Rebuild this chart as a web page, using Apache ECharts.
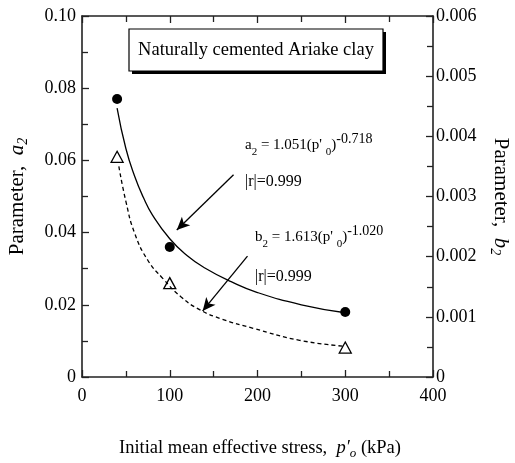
<!DOCTYPE html>
<html>
<head>
<meta charset="utf-8">
<script src="https://cdn.jsdelivr.net/npm/echarts@6/dist/echarts.min.js"></script>
<style>
  html, body { margin: 0; padding: 0; background: #fff; }
  #chart { width: 515px; height: 463px; }
</style>
</head>
<body>
<div id="chart"></div>
<script>
// Measured points: initial mean effective stress (kPa) and the two parameters
const pressure = [40, 100, 300];
const a2Values = [0.077, 0.036, 0.018];
const b2Values = [0.00366, 0.00156, 0.00049];

// Fitted power curves, sampled along the drawn lines
const a2FitStress = [40, 50, 60, 70, 80, 100, 120, 140, 170, 200, 250, 300];
const a2FitValues = [0.0745, 0.0633, 0.0556, 0.0497, 0.0450, 0.0383, 0.0336, 0.0302, 0.0264, 0.0234, 0.0200, 0.0178];
const b2FitStress = [42, 50, 60, 75, 92, 113, 134, 160, 195, 248, 300];
const b2FitValues = [0.00350, 0.00292, 0.00239, 0.00194, 0.00164, 0.00133, 0.00112, 0.00096, 0.00081, 0.00061, 0.00051];

// Tick labels
const xTickLabels = ['0', '100', '200', '300', '400'];
const leftTickLabels = ['0', '0.02', '0.04', '0.06', '0.08', '0.10'];
const rightTickLabels = ['0', '0.001', '0.002', '0.003', '0.004', '0.005', '0.006'];

const SERIF = '"Liberation Serif", "Times New Roman", serif';
const INK = '#000';

function pairs(xs, ys) { return xs.map((x, i) => [x, ys[i]]); }
function labelFrom(list, step) {
  return function (v) {
    const i = Math.round(v / step);
    return list[i] !== undefined ? list[i] : '';
  };
}

const axisLine = { show: true, onZero: false, lineStyle: { color: '#222', width: 1.6 } };
const tick = { show: true, inside: true, length: 7, lineStyle: { color: '#222', width: 1.3 } };
const minor = { show: true, splitNumber: 2, length: 6, lineStyle: { color: '#222', width: 1.3 } };
const tickFont = { color: INK, fontFamily: SERIF, fontSize: 18 };

// equation text: main run, subscript and superscript
const eqRich = {
  a: { fontFamily: SERIF, fontSize: 15, color: INK, lineHeight: 26, verticalAlign: 'middle' },
  s: { fontFamily: SERIF, fontSize: 11, color: INK, lineHeight: 19, verticalAlign: 'bottom' },
  e: { fontFamily: SERIF, fontSize: 14, color: INK, lineHeight: 9, verticalAlign: 'top' }
};

const nameRich = {
  n: { fontFamily: SERIF, fontSize: 21, color: INK, lineHeight: 26 },
  i: { fontFamily: SERIF, fontSize: 21, fontStyle: 'italic', color: INK, lineHeight: 26 },
  is: { fontFamily: SERIF, fontSize: 14, fontStyle: 'italic', color: INK, lineHeight: 18, verticalAlign: 'bottom' }
};

const chart = echarts.init(document.getElementById('chart'), null, { renderer: 'canvas' });

chart.setOption({
  animation: false,
  backgroundColor: '#fff',
  grid: { left: 82, right: 82, top: 16, bottom: 86, containLabel: false, outerBoundsMode: 'none' },
  xAxis: [
    {
      type: 'value', position: 'bottom', min: 0, max: 400, interval: 100,
      axisLine: axisLine, axisTick: tick, minorTick: minor,
      splitLine: { show: false },
      axisLabel: Object.assign({ margin: 10, formatter: labelFrom(xTickLabels, 100) }, tickFont),
      name: '{n|Initial mean effective stress,  }{i|p\u2032}{is|o}{n| (kPa)}',
      nameLocation: 'middle', nameGap: 59,
      nameTextStyle: {
        padding: [0, 0, 0, 5],
        rich: {
          n: { fontFamily: SERIF, fontSize: 18.5, color: INK, lineHeight: 24 },
          i: { fontFamily: SERIF, fontSize: 18.5, fontStyle: 'italic', color: INK, lineHeight: 24 },
          is: { fontFamily: SERIF, fontSize: 13, fontStyle: 'italic', color: INK, lineHeight: 17, verticalAlign: 'bottom' }
        }
      }
    },
    {
      type: 'value', position: 'top', min: 0, max: 400, interval: 100,
      axisLine: axisLine, axisTick: tick, minorTick: minor,
      splitLine: { show: false }, axisLabel: { show: false }
    }
  ],
  yAxis: [
    {
      type: 'value', position: 'left', min: 0, max: 0.1, interval: 0.02,
      axisLine: axisLine, axisTick: tick, minorTick: minor,
      splitLine: { show: false },
      axisLabel: Object.assign({ margin: 6, formatter: labelFrom(leftTickLabels, 0.02) }, tickFont),
      name: '{n|Parameter,  }{i|a}{is|2}',
      nameLocation: 'middle', nameRotate: 90, nameGap: 52,
      nameTextStyle: { rich: nameRich }
    },
    {
      type: 'value', position: 'right', min: 0, max: 0.006, interval: 0.001,
      axisLine: axisLine, axisTick: tick, minorTick: minor,
      splitLine: { show: false },
      axisLabel: Object.assign({ margin: 3, formatter: labelFrom(rightTickLabels, 0.001) }, tickFont),
      name: '{n|Parameter,  }{i|b}{is|2}',
      nameLocation: 'middle', nameRotate: -90, nameGap: 54,
      nameTextStyle: { rich: nameRich }
    }
  ],
  series: [
    {
      name: 'a2 fit', type: 'line', xAxisIndex: 0, yAxisIndex: 0,
      data: pairs(a2FitStress, a2FitValues), smooth: true, showSymbol: false,
      lineStyle: { color: INK, width: 1.3 },
      markLine: {
        silent: true, symbol: ['none', 'arrow'], symbolSize: [9, 13],
        label: { show: false },
        lineStyle: { color: INK, width: 1.3, type: 'solid' },
        data: [
          [{ coord: [172.7, 0.0560] }, { coord: [108, 0.0407] }],
          [{ coord: [188.6, 0.0335] }, { coord: [137.5, 0.0183] }]
        ]
      }
    },
    {
      name: 'b2 fit', type: 'line', xAxisIndex: 0, yAxisIndex: 1,
      data: pairs(b2FitStress, b2FitValues), smooth: true, showSymbol: false,
      lineStyle: { color: INK, width: 1.3, type: [4, 3] }
    },
    {
      name: 'a2', type: 'scatter', xAxisIndex: 0, yAxisIndex: 0,
      data: pairs(pressure, a2Values), symbol: 'circle', symbolSize: 10,
      itemStyle: { color: INK, opacity: 1 }
    },
    {
      name: 'b2', type: 'scatter', xAxisIndex: 0, yAxisIndex: 1,
      data: pairs(pressure, b2Values), symbol: 'triangle', symbolSize: [12, 11],
      itemStyle: { color: '#fff', borderColor: INK, borderWidth: 1.3, opacity: 1 }
    }
  ],
  graphic: [
    // caption box with a drop shadow
    { type: 'rect', shape: { x: 132, y: 32, width: 254, height: 42 }, style: { fill: INK }, z: 10 },
    { type: 'rect', shape: { x: 129, y: 29, width: 254, height: 42 }, style: { fill: '#fff', stroke: INK, lineWidth: 1.2 }, z: 11 },
    {
      type: 'text', x: 256, y: 50, z: 12,
      style: { text: 'Naturally cemented Ariake clay', font: '18.5px ' + SERIF, fill: INK, align: 'center', verticalAlign: 'middle' }
    },
    // fitted equations
    {
      type: 'text', x: 245, y: 145, z: 12,
      style: { text: '{a|a}{s|2}{a| = 1.051(p\' }{s|0}{a|)}{e|-0.718}', rich: eqRich, verticalAlign: 'middle' }
    },
    {
      type: 'text', x: 245, y: 182, z: 12,
      style: { text: '|r|=0.999', font: '16px ' + SERIF, fill: INK, verticalAlign: 'middle' }
    },
    {
      type: 'text', x: 255, y: 237, z: 12,
      style: { text: '{a|b}{s|2}{a| = 1.613(p\' }{s|0}{a|)}{e|-1.020}', rich: eqRich, verticalAlign: 'middle' }
    },
    {
      type: 'text', x: 255, y: 277, z: 12,
      style: { text: '|r|=0.999', font: '16px ' + SERIF, fill: INK, verticalAlign: 'middle' }
    }
  ]
});
</script>
</body>
</html>
